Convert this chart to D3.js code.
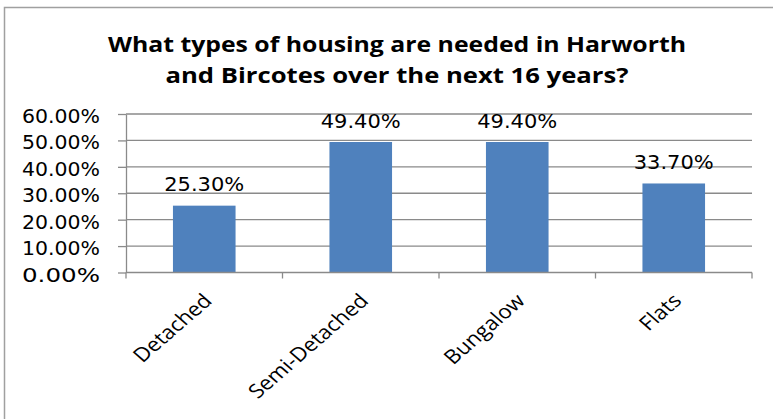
<!DOCTYPE html>
<html>
<head>
<meta charset="utf-8">
<script src="https://cdn.jsdelivr.net/npm/d3@7"></script>
<style>
  html, body { margin: 0; padding: 0; background: #fff; }
  svg { display: block; }
</style>
</head>
<body>
<svg id="chart" width="773" height="419"></svg>
<script>
// Survey results: share of respondents choosing each housing type
const categories = ["Detached", "Semi-Detached", "Bungalow", "Flats"];
const values = [25.3, 49.4, 49.4, 33.7];
const yTicks = [0, 10, 20, 30, 40, 50, 60];
const titleLines = [
  "What types of housing are needed in Harworth",
  "and Bircotes over the next 16 years?"
];

const svg = d3.select("#chart");
const W = 773, H = 419;
const plot = { left: 126, right: 752, top: 114, bottom: 272.5 };
const gridColor = "#8a8a8a";
const barColor = "#4f81bd";
const stretch = 1.15; // horizontal stretch applied to the slanted category labels

svg.append("rect").attr("width", W).attr("height", H).attr("fill", "#fff");

// chart frame (top and left edges visible)
svg.append("path")
  .attr("d", `M4.5,${H} L4.5,7.5 L${W},7.5`)
  .attr("fill", "none")
  .attr("stroke", "#a0a0a0")
  .attr("stroke-width", 1.5);

// title
const title = svg.append("g");
const titleLen = [578, 463];
const titleBase = [52, 83];
titleLines.forEach((t, i) => {
  title.append("text")
    .attr("x", 397)
    .attr("y", titleBase[i])
    .attr("text-anchor", "middle")
    .attr("font-family", "'Open Sans', sans-serif")
    .attr("font-weight", "bold")
    .attr("font-size", 22)
    .attr("textLength", titleLen[i])
    .attr("lengthAdjust", "spacingAndGlyphs")
    .attr("fill", "#000")
    .text(t);
});

const x = d3.scaleBand()
  .domain(categories)
  .range([plot.left, plot.right])
  .paddingInner(0.6)
  .paddingOuter(0.3);

const y = d3.scaleLinear()
  .domain([0, 60])
  .range([plot.bottom, plot.top]);

// horizontal gridlines
svg.append("g")
  .selectAll("line")
  .data(yTicks.filter(d => d > 0))
  .join("line")
  .attr("x1", plot.left)
  .attr("x2", plot.right)
  .attr("y1", d => y(d))
  .attr("y2", d => y(d))
  .attr("stroke", gridColor)
  .attr("stroke-width", 1.3);

// bars
svg.append("g")
  .selectAll("rect")
  .data(categories)
  .join("rect")
  .attr("x", d => x(d))
  .attr("width", x.bandwidth())
  .attr("y", (d, i) => y(values[i]))
  .attr("height", (d, i) => y(0) - y(values[i]))
  .attr("fill", barColor);

// value labels above bars
svg.append("g")
  .selectAll("text")
  .data(categories)
  .join("text")
  .attr("x", d => x(d) + x.bandwidth() / 2)
  .attr("y", (d, i) => y(values[i]) - 14.5)
  .attr("text-anchor", "middle")
  .attr("font-family", "'DejaVu Sans', sans-serif")
  .attr("font-size", 19)
  .attr("textLength", 80)
  .attr("lengthAdjust", "spacingAndGlyphs")
  .attr("fill", "#000")
  .text((d, i) => values[i].toFixed(2) + "%");

// y axis
const yAxis = svg.append("g")
  .attr("transform", `translate(${plot.left},0)`)
  .call(d3.axisLeft(y)
    .tickValues(yTicks)
    .tickSize(8)
    .tickSizeOuter(0)
    .tickFormat(d => d.toFixed(2) + "%"));
yAxis.select(".domain").attr("stroke", gridColor).attr("stroke-width", 1.3);
yAxis.selectAll(".tick line").attr("stroke", gridColor).attr("stroke-width", 1.3);
yAxis.selectAll(".tick text")
  .attr("x", -26)
  .attr("dy", 8.5)
  .attr("font-family", "'DejaVu Sans', sans-serif")
  .attr("font-size", 19)
  .attr("textLength", 78)
  .attr("lengthAdjust", "spacingAndGlyphs")
  .attr("fill", "#000");

// x axis line with ticks at category boundaries
const boundaries = categories.map(c => x(c) - x.step() * x.paddingOuter());
boundaries.push(plot.right);
const xAxis = svg.append("g");
xAxis.append("line")
  .attr("x1", plot.left).attr("x2", plot.right)
  .attr("y1", y(0)).attr("y2", y(0))
  .attr("stroke", gridColor).attr("stroke-width", 1.3);
xAxis.selectAll("line.tick")
  .data(boundaries)
  .join("line")
  .attr("class", "tick")
  .attr("x1", d => d).attr("x2", d => d)
  .attr("y1", y(0)).attr("y2", y(0) + 6)
  .attr("stroke", gridColor).attr("stroke-width", 1.3);

// slanted category labels
svg.append("g")
  .selectAll("text")
  .data(categories)
  .join("text")
  .attr("transform", d =>
    `translate(${x(d) + x.bandwidth() / 2 + 9},302) scale(${stretch},1) rotate(-45)`)
  .attr("text-anchor", "end")
  .attr("font-family", "'Open Sans', sans-serif")
  .attr("font-size", 19.5)
  .attr("fill", "#000")
  .text(d => d);
</script>
</body>
</html>
